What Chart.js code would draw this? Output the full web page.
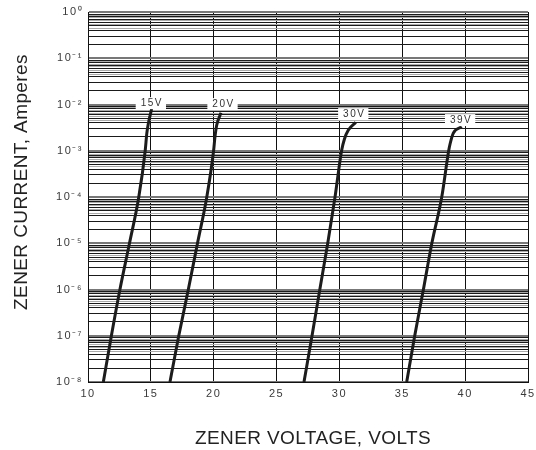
<!DOCTYPE html>
<html>
<head>
<meta charset="utf-8">
<script src="https://cdn.jsdelivr.net/npm/chart.js@4"></script>
<style>
  body { margin: 0; background: #fff; }
  #wrap { width: 536px; height: 450px; }
</style>
</head>
<body>
<div id="wrap"><canvas id="zenerChart" width="536" height="450"></canvas></div>
<script>
// zener curves, voltage (V) vs current (A)
var volts15 = [11.22, 11.86, 12.54, 13.30, 14.04, 14.55, 14.68, 14.80, 15.06];
var amps15  = [1e-8, 1e-7, 1e-6, 1e-5, 1e-4, 1e-3, 2.4e-3, 3.9e-3, 8.0e-3];
var volts20 = [16.52, 17.22, 17.98, 18.71, 19.45, 19.99, 20.10, 20.24, 20.58];
var amps20  = [1e-8, 1e-7, 1e-6, 1e-5, 1e-4, 1e-3, 2.0e-3, 3.6e-3, 6.6e-3];
var volts30 = [27.18, 27.82, 28.44, 29.07, 29.65, 30.17, 30.40, 30.71, 31.30];
var amps30  = [1e-8, 1e-7, 1e-6, 1e-5, 1e-4, 1e-3, 1.8e-3, 2.8e-3, 4.1e-3];
var volts39 = [35.35, 35.99, 36.68, 37.35, 38.14, 38.69, 38.80, 39.06, 39.73];
var amps39  = [1e-8, 1e-7, 1e-6, 1e-5, 1e-4, 1e-3, 1.4e-3, 2.4e-3, 3.3e-3];

var curveNames = ['15V', '20V', '30V', '39V'];
var labelVolts = [15.0, 20.7, 31.1, 39.6];
var labelAmps  = [1.07e-2, 1.02e-2, 6.2e-3, 4.6e-3];

var xTicks = [10, 15, 20, 25, 30, 35, 40, 45];
var decadeExps = [-8, -7, -6, -5, -4, -3, -2, -1, 0];
var decadeLabels = ['10\u207B\u2078', '10\u207B\u2077', '10\u207B\u2076', '10\u207B\u2075',
                    '10\u207B\u2074', '10\u207B\u00B3', '10\u207B\u00B2', '10\u207B\u00B9', '10\u2070'];
var gridMultiples = [2, 3, 4, 4.5, 5, 5.5, 6, 6.5, 7, 7.5, 8, 8.5, 9];

var FONT = '"Liberation Sans", Arial, sans-serif';

function pairs(xs, ys) {
    return xs.map(function(v, i) { return {x: v, y: ys[i]}; });
}

function mantissa(v) {
    var e = Math.floor(Math.log10(v) + 1e-9);
    return v / Math.pow(10, e);
}

function curve(data) {
    return {
        data: data,
        showLine: true,
        borderColor: '#1c1c1c',
        borderWidth: 3,
        pointRadius: 0,
        cubicInterpolationMode: 'monotone',
        fill: false
    };
}

// text spacing + title offsets
var titleShift = { x: 5, y: -15 };
var textTweaks = {
    id: 'textTweaks',
    beforeDraw: function(chart) {
        chart.ctx.letterSpacing = '1.5px';
        Object.keys(chart.scales).forEach(function(id) {
            var sc = chart.scales[id];
            if (sc._patched) return;
            var orig = sc.drawTitle;
            sc.drawTitle = function() {
                var c = this.ctx;
                c.save();
                c.letterSpacing = '0.4px';
                if (this.isHorizontal()) c.translate(titleShift.x, 0);
                else c.translate(0, titleShift.y);
                orig.apply(this, arguments);
                c.restore();
            };
            sc._patched = true;
        });
    }
};

var curveLabels = {
    id: 'curveLabels',
    afterDatasetsDraw: function(chart) {
        var ctx = chart.ctx, xs = chart.scales.x, ys = chart.scales.y;
        ctx.save();
        ctx.font = '10px ' + FONT;
        ctx.letterSpacing = '1.5px';
        ctx.textAlign = 'center';
        ctx.textBaseline = 'middle';
        for (var i = 0; i < curveNames.length; i++) {
            var px = xs.getPixelForValue(labelVolts[i]);
            var py = ys.getPixelForValue(labelAmps[i]);
            var w = ctx.measureText(curveNames[i]).width + 8;
            ctx.fillStyle = '#fff';
            ctx.fillRect(px - w / 2, py - 6, w, 12);
            ctx.fillStyle = '#333';
            ctx.fillText(curveNames[i], px + 1, py);
        }
        ctx.restore();
    }
};

var ctx = document.getElementById('zenerChart').getContext('2d');
var zenerChart = new Chart(ctx, {
    type: 'scatter',
    data: {
        datasets: [
            curve(pairs(volts15, amps15)),
            curve(pairs(volts20, amps20)),
            curve(pairs(volts30, amps30)),
            curve(pairs(volts39, amps39))
        ]
    },
    options: {
        responsive: false,
        animation: false,
        layout: { padding: { top: 12, right: 8, left: 0, bottom: 0 } },
        plugins: {
            legend: { display: false },
            tooltip: { enabled: false }
        },
        scales: {
            x: {
                type: 'linear',
                min: 10,
                max: 45,
                afterBuildTicks: function(scale) {
                    scale.ticks = xTicks.map(function(v) { return {value: v}; });
                },
                afterFit: function(scale) {
                    scale.height = 68;
                    scale.paddingLeft = 0;
                    scale.paddingRight = 0;
                },
                grid: { color: '#111', lineWidth: 1, drawTicks: false },
                border: { display: true, color: '#111', width: 1 },
                ticks: {
                    padding: 5,
                    color: '#3a3a3a',
                    font: { family: FONT, size: 11 },
                    maxRotation: 0
                },
                title: {
                    display: true,
                    text: 'ZENER VOLTAGE, VOLTS',
                    color: '#222',
                    font: { family: FONT, size: 19 },
                    padding: { top: 0, bottom: 0 }
                }
            },
            y: {
                type: 'logarithmic',
                min: 1e-8,
                max: 1,
                afterBuildTicks: function(scale) {
                    var t = [];
                    decadeExps.forEach(function(e) {
                        var base = Math.pow(10, e);
                        t.push({value: base, major: true});
                        if (e < 0) {
                            gridMultiples.forEach(function(m) { t.push({value: m * base}); });
                        }
                    });
                    t.sort(function(a, b) { return a.value - b.value; });
                    scale.ticks = t;
                },
                afterFit: function(scale) {
                    scale.width = 88;
                    scale.paddingTop = 0;
                    scale.paddingBottom = 0;
                },
                grid: {
                    drawTicks: false,
                    color: function(c) {
                        if (!c.tick) return '#111';
                        var m = mantissa(c.tick.value);
                        if (Math.abs(m - 1) < 1e-6) return '#777';
                        if (Math.abs(m - Math.round(m)) > 0.01) return '#aaa';
                        return '#1a1a1a';
                    },
                    lineWidth: function(c) {
                        if (!c.tick) return 1;
                        var m = mantissa(c.tick.value);
                        return Math.abs(m - 1) < 1e-6 ? 2 : 1;
                    }
                },
                border: { display: true, color: '#111', width: 1 },
                ticks: {
                    padding: 5,
                    color: '#3a3a3a',
                    font: { family: FONT, size: 11 },
                    autoSkip: false,
                    callback: function(value) {
                        var e = Math.round(Math.log10(value));
                        if (Math.abs(Math.log10(value) - e) > 1e-6) return '';
                        var i = decadeExps.indexOf(e);
                        return i >= 0 ? decadeLabels[i] : '';
                    }
                },
                title: {
                    display: true,
                    text: 'ZENER CURRENT, Amperes',
                    color: '#222',
                    font: { family: FONT, size: 19 },
                    padding: { top: 10, bottom: 0 }
                }
            }
        }
    },
    plugins: [textTweaks, curveLabels]
});
</script>
</body>
</html>
